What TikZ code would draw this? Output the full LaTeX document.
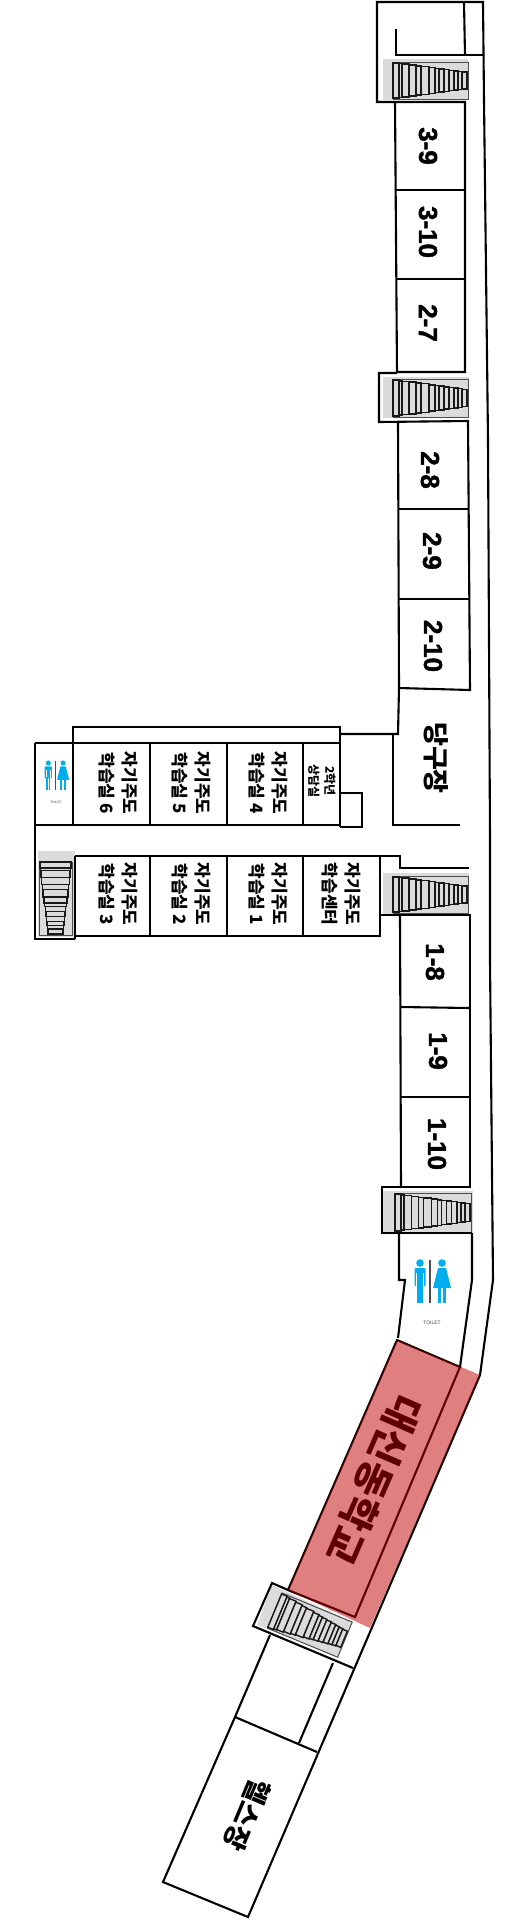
\documentclass[tikz,border=0pt]{standalone}
\usepackage{fontspec}
\setmainfont{Noto Sans CJK KR}[BoldFont={Noto Sans CJK KR Black}]
\newfontfamily\latinfont{Liberation Sans}[BoldFeatures={FakeBold=1.5}]
\usetikzlibrary{positioning}

\tikzset{
  wall/.style={line width=2.1pt, black},
  stairgrey/.style={fill=black!14},
  roomlabel/.style={rotate=-90, font=\fontsize{17}{23}\selectfont\bfseries, align=center, inner sep=0pt},
  numlabel/.style={rotate=-90, font=\fontsize{26}{26}\latinfont\bfseries, inner sep=0pt},
  toilettext/.style={text=black!70, inner sep=0pt, font=\latinfont}
}

\definecolor{signblue}{HTML}{00AEEF}

% one flight of steps, wide end first
\newcommand{\stairflight}[5]{
  \begin{scope}[shift={(#1,#2)}, rotate=#3, xscale=#4/75, yscale=#5/37]
    \draw[black!70, line width=1pt] (0,0) rectangle (75,37);
    \foreach \xa/\xb in {0/6,6/9,9/16,16/23,23/28,28/36,36/42,42/46,46/51,51/56,56/61,61/65,65/69,69/74}{
      \pgfmathsetmacro\halfh{17.5-9.5*\xa/73}
      \draw[black!90, line width=1.4pt, fill=black!14] (\xa,18.5-\halfh) rectangle (\xb,18.5+\halfh);
    }
  \end{scope}
}

% man, bar and woman
\newcommand{\toiletsign}[3]{
  \begin{scope}[shift={(#1,#2)}, scale=#3]
    \fill[signblue] (-10,3) circle (3.8);
    \fill[signblue, rounded corners=1pt] (-15.5,8) rectangle (-4.5,26);
    \fill[white] (-13.6,13) rectangle (-13,26);
    \fill[white] (-7,13) rectangle (-6.4,26);
    \fill[signblue] (-12.9,24) rectangle (-10.3,43);
    \fill[signblue] (-9.7,24) rectangle (-7.1,43);
    \fill[black!70] (-.7,0) rectangle (.7,43);
    \fill[signblue] (12,3) circle (3.8);
    \fill[signblue, rounded corners=.5pt] (8,8) -- (16,8) -- (21,28) -- (3,28) -- cycle;
    \fill[signblue] (8.1,27) rectangle (10.9,43);
    \fill[signblue] (13.1,27) rectangle (15.9,43);
  \end{scope}
}

\begin{document}
\begin{tikzpicture}[x=1pt, y=-1pt]
  \useasboundingbox (0,0) rectangle (513,1920);

  % grey landings
  \fill[stairgrey] (383,59) rectangle (468,100);
  \fill[stairgrey] (383,377) rectangle (469,418);
  \fill[stairgrey] (383,873) rectangle (469,914);
  \fill[stairgrey] (383,1191) rectangle (473,1233);
  \fill[stairgrey] (38,851) rectangle (75,937);
  \fill[stairgrey] (272,1585) -- (352,1622) -- (338,1657) -- (257,1625) -- cycle;

  % steps
  \stairflight{393}{62}{0}{75}{37}
  \stairflight{393}{379}{0}{75}{38}
  \stairflight{393}{876}{0}{75}{37}
  \stairflight{395}{1193}{0}{76}{39}
  \stairflight{72}{862}{-90}{73}{33}
  \stairflight{282}{1593}{-22.5}{76}{38}

  % outer wall, top to bottom
  \draw[wall] (395,102) -- (377,102) -- (377,2) -- (483,2) -- (484,100) -- (488,440) -- (490,840) -- (490,960)
    -- (493,1280) -- (480,1375) -- (248,1917) -- (163,1882) -- (235,1717) -- (270,1635);
  \draw[wall] (396,29) -- (396,55) -- (483,55);
  \draw[wall] (464,2) -- (465,55);

  % rooms of the third and second floor strip
  \draw[wall] (395,102) -- (465,102) -- (465,372) -- (397,372) -- cycle;
  \draw[wall] (396,190) -- (465,190);
  \draw[wall] (397,279) -- (465,279);
  \draw[wall] (397,373) -- (379,373) -- (379,422) -- (468,421) -- (470,690) -- (399,688) -- (398,421);
  \draw[wall] (398,509) -- (468,509);
  \draw[wall] (399,599) -- (469,599);

  % study rooms
  \draw[wall] (399,688) -- (398,734) -- (340,734);
  \draw[wall] (35,743) -- (340,743);
  \draw[wall] (73,743) -- (73,727) -- (340,727) -- (340,827);
  \draw[wall] (340,793) -- (362,793) -- (362,827) -- (340,827);
  \draw[wall] (35,825) -- (340,825);
  \draw[wall] (35,743) -- (35,939) -- (75,939);
  \draw[wall] (73,743) -- (73,825);
  \draw[wall] (150,743) -- (150,825);
  \draw[wall] (227,743) -- (227,825);
  \draw[wall] (303,743) -- (303,825);
  \draw[wall] (75,856) -- (400,856) -- (400,868) -- (469,868);
  \draw[wall] (75,936) -- (380,936) -- (380,856);
  \draw[wall] (75,856) -- (75,939);
  \draw[wall] (150,856) -- (150,936);
  \draw[wall] (227,856) -- (227,936);
  \draw[wall] (303,856) -- (303,936);
  \draw[wall] (393,734) -- (393,825) -- (460,825);

  % rooms of the first floor strip
  \draw[wall] (380,915) -- (470,915) -- (470,1187) -- (382,1187) -- (382,1233) -- (472,1233);
  \draw[wall] (400,915) -- (401,1187);
  \draw[wall] (401,1007) -- (469,1008);
  \draw[wall] (401,1097) -- (470,1097);

  % toilet end
  \draw[wall] (399,1233) -- (399,1280) -- (405,1280) -- (398,1338);
  \draw[wall] (472,1233) -- (472,1280) -- (460,1367);
  \toiletsign{430}{1260}{1}
  \node[toilettext, font=\fontsize{5}{5}\latinfont] (toilet one) at (432,1323) {TOILET};
  \toiletsign{55}{761}{.67}
  \node[toilettext, font=\fontsize{3.3}{4}\latinfont] (toilet two) at (56,802) {TOILET};

  % lower hall and gym
  \draw[wall] (397,1340) -- (460,1367) -- (355,1617) -- (288,1590) -- cycle;
  \draw[wall] (288,1590) -- (272,1583) -- (253,1626) -- (353,1668);
  \draw[wall] (333,1663) -- (299,1743);
  \draw[wall] (235,1717) -- (317,1752);

  % labels
  \node[numlabel] (room 3-9) at (428,146) {3-9};
  \node[numlabel] (room 3-10) at (428,232) {3-10};
  \node[numlabel] (room 2-7) at (428,323) {2-7};
  \node[numlabel] (room 2-8) at (430,470) {2-8};
  \node[numlabel] (room 2-9) at (432,551) {2-9};
  \node[numlabel] (room 2-10) at (433,646) {2-10};
  \node[numlabel] (room 1-8) at (435,962) {1-8};
  \node[numlabel] (room 1-9) at (438,1051) {1-9};
  \node[numlabel] (room 1-10) at (437,1144) {1-10};

  \node[roomlabel, font=\fontsize{26}{26}\selectfont\bfseries] (billiards) at (436,758) {당구장};
  \node[roomlabel, font=\fontsize{12}{16}\selectfont\bfseries] (counsel) at (322,781) {2학년\\상담실};

  \node[roomlabel] (study 6) at (118.5,783) {자기주도\\학습실 6};
  \node[roomlabel] (study 5) at (191.5,783) {자기주도\\학습실 5};
  \node[roomlabel] (study 4) at (268.5,783) {자기주도\\학습실 4};
  \node[roomlabel] (study 3) at (118.5,894) {자기주도\\학습실 3};
  \node[roomlabel] (study 2) at (191.5,894) {자기주도\\학습실 2};
  \node[roomlabel] (study 1) at (268.5,894) {자기주도\\학습실 1};
  \node[roomlabel] (study centre) at (341,894) {자기주도\\학습센터};

  \node[roomlabel, rotate=-23.6, font=\fontsize{39}{39}\selectfont\bfseries] (hall) at (374,1480) {대신동학교};
  \node[roomlabel, rotate=-22.7, font=\fontsize{27}{27}\selectfont\bfseries] (gym) at (247,1815) {헬스장};

  % red band over the hall
  \fill[red!75!black, opacity=.5] (397,1340) -- (480,1375) -- (370,1628) -- (288,1590) -- cycle;

\end{tikzpicture}
\end{document}
